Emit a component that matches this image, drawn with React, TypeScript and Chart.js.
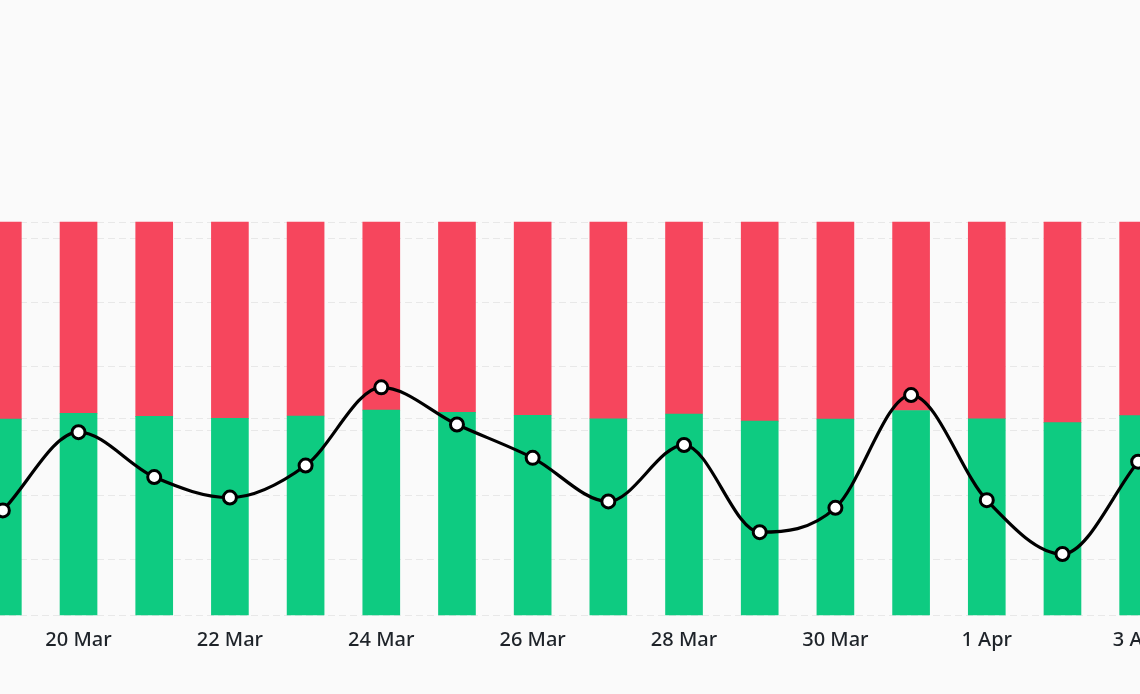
import React, { useEffect, useRef } from "react";
import { Chart, registerables } from "chart.js";

Chart.register(...registerables);

const labels = [
  "19 Mar", "20 Mar", "21 Mar", "22 Mar", "23 Mar", "24 Mar", "25 Mar", "26 Mar",
  "27 Mar", "28 Mar", "29 Mar", "30 Mar", "31 Mar", "1 Apr", "2 Apr", "3 Apr",
];
const longPct = [49.9, 51.4, 50.6, 50.1, 50.7, 52.2, 51.6, 50.9, 50.0, 51.2, 49.4, 49.9, 52.1, 50.0, 49.0, 50.8];
const shortPct = [50.1, 48.6, 49.4, 49.9, 49.3, 47.8, 48.4, 49.1, 50.0, 48.8, 50.6, 50.1, 47.9, 50.0, 51.0, 49.2];
const ratio = [0.988, 1.049, 1.014, 0.998, 1.023, 1.084, 1.055, 1.029, 0.995, 1.039, 0.971, 0.99, 1.078, 0.996, 0.954, 1.026];

const GREEN = "#0ECB81";
const RED = "#F6465D";

const zeroWidth = (s: any) => {
  s.width = 0;
};

export default function App() {
  const ref = useRef<HTMLCanvasElement | null>(null);

  useEffect(() => {
    if (!ref.current) return;
    const chart = new Chart(ref.current, {
      type: "bar",
      data: {
        labels,
        datasets: [
          {
            type: "line",
            label: "Ratio",
            data: ratio,
            yAxisID: "yRatio",
            borderColor: "#000000",
            borderWidth: 3.2,
            pointRadius: 6.5,
            pointBorderWidth: 3,
            pointBackgroundColor: "#ffffff",
            pointBorderColor: "#000000",
            cubicInterpolationMode: "monotone",
            order: 0,
            clip: false,
          } as any,
          {
            type: "bar",
            label: "Long",
            data: longPct,
            backgroundColor: GREEN,
            yAxisID: "yPct",
            stack: "s",
            barThickness: 37,
            order: 1,
            clip: false,
          } as any,
          {
            type: "bar",
            label: "Short",
            data: shortPct,
            backgroundColor: RED,
            yAxisID: "yPct",
            stack: "s",
            barThickness: 37,
            order: 1,
            clip: false,
          } as any,
        ],
      },
      options: {
        responsive: false,
        animation: false,
        layout: { autoPadding: false, padding: { top: 222, bottom: 29.5, left: 0, right: 0 } },
        plugins: { legend: { display: false }, tooltip: { enabled: false } },
        scales: {
          x: {
            stacked: true,
            grid: { display: false, drawTicks: false },
            border: { display: false },
            ticks: {
              autoSkip: false,
              maxRotation: 0,
              padding: 12.5,
              color: "#1E2329",
              font: { family: "'Noto Sans', sans-serif", size: 20, weight: "500" },
              callback: (_v: any, i: number) => (i % 2 === 1 ? labels[i] : ""),
            },
          },
          yPct: {
            display: true,
            stacked: true,
            min: 0,
            max: 100,
            position: "left",
            afterFit: zeroWidth,
            ticks: { display: false, stepSize: 50 },
            grid: { color: "#E8E8E8", drawTicks: false, lineWidth: 1 },
            border: { display: false, dash: [7, 4] },
          },
          yRatio: {
            display: true,
            min: 0.906,
            max: 1.213,
            position: "right",
            afterFit: zeroWidth,
            ticks: { display: false, stepSize: 0.05, includeBounds: false },
            grid: { color: "#E8E8E8", drawTicks: false, lineWidth: 1 },
            border: { display: false, dash: [7, 4] },
          },
        },
      },
    });
    return () => chart.destroy();
  }, []);

  return (
    <div
      style={{
        position: "fixed",
        left: 0,
        top: 0,
        width: 1140,
        height: 694,
        overflow: "hidden",
        background: "#FAFAFA",
      }}
    >
      <canvas
        ref={ref}
        width={1211}
        height={694}
        style={{ position: "absolute", left: -35, top: 0, width: 1211, height: 694 }}
      />
    </div>
  );
}
